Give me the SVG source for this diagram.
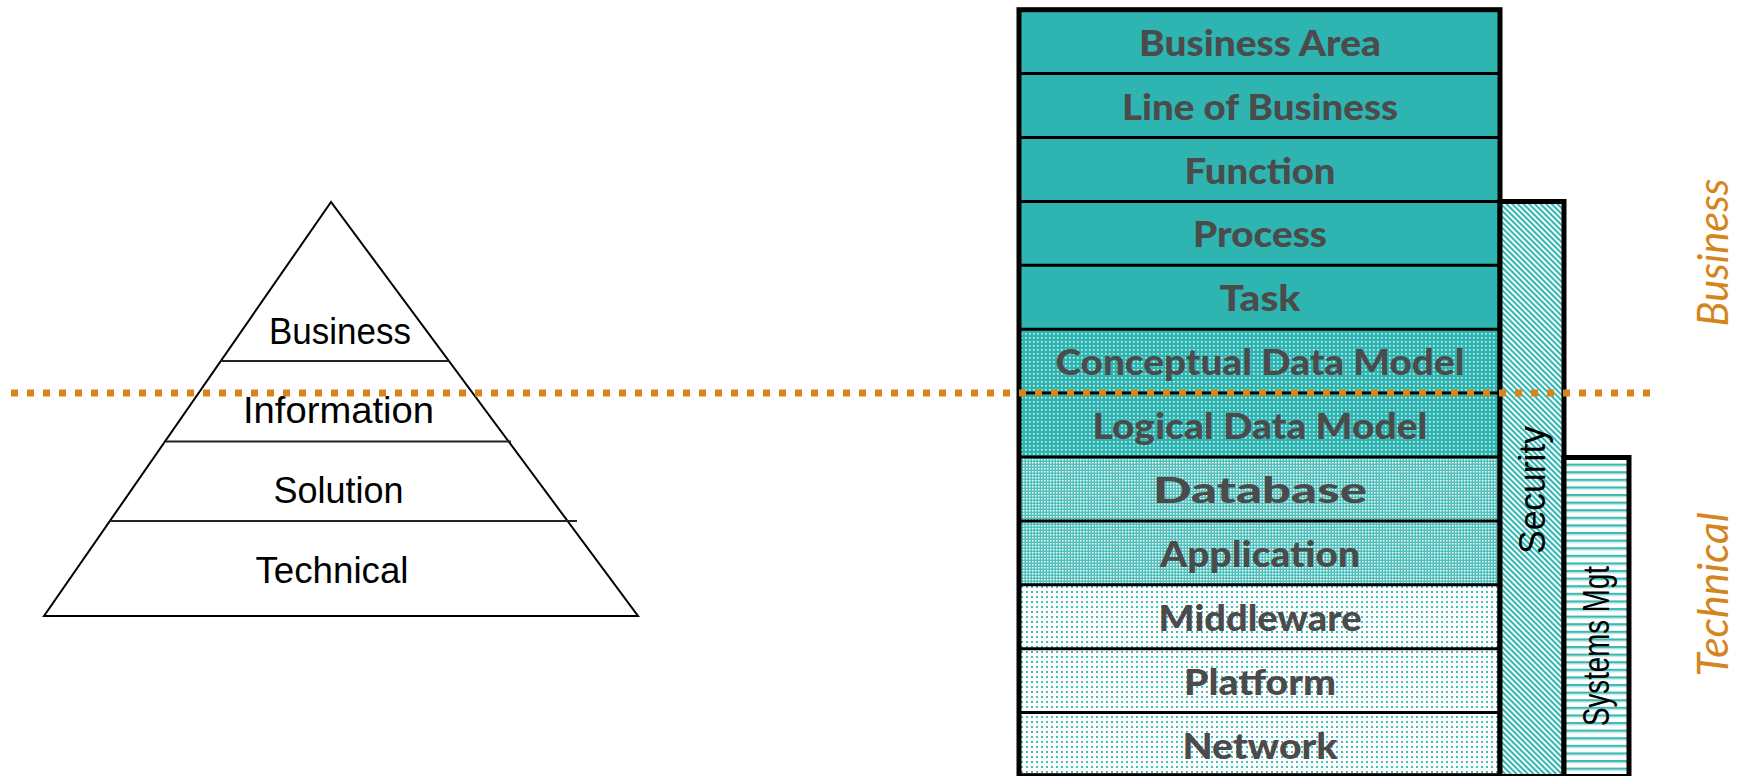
<svg xmlns="http://www.w3.org/2000/svg" width="1749" height="776" viewBox="0 0 1749 776">
<defs>
<style>
.lbl{font-family:Lato,"Open Sans","Liberation Sans",sans-serif;font-weight:900;font-size:36px;fill:#4b4b4b;text-anchor:middle}
.pyr{font-family:"Liberation Sans",Arial,sans-serif;font-size:37px;fill:#000;text-anchor:middle}
.side{font-family:"Liberation Sans",Arial,sans-serif;font-size:36px;fill:#000;text-anchor:middle}
.zone{font-family:Lato,"Open Sans",sans-serif;font-style:italic;font-size:42px;fill:#D4861C;text-anchor:middle}
.row{stroke:#000;stroke-width:3}
.border{fill:none;stroke:#000;stroke-width:5}
.pl{stroke:#222;stroke-width:2}
</style>
<pattern id="pDotW" width="4" height="4" patternUnits="userSpaceOnUse"><rect width="4" height="4" fill="#2EB5B1"/><rect x="1" y="1" width="1.6" height="1.6" fill="#ffffff" opacity="0.8"/></pattern>
<pattern id="pCheck" width="3" height="3" patternUnits="userSpaceOnUse"><rect width="3" height="3" fill="#4fc0bc"/><rect width="1.5" height="1.5" fill="#ffffff"/></pattern>
<pattern id="pDotT" width="5" height="5" patternUnits="userSpaceOnUse"><rect width="5" height="5" fill="#ffffff"/><rect x="1" y="1" width="2" height="2" fill="#45bdb9"/></pattern>
<pattern id="pDiag" width="4" height="4" patternUnits="userSpaceOnUse" patternTransform="rotate(-45)"><rect width="4" height="4" fill="#ffffff"/><rect width="2.1" height="4" fill="#33b7b3"/></pattern>
<pattern id="pHoriz" width="10" height="7.6" patternUnits="userSpaceOnUse"><rect width="10" height="7.6" fill="#ffffff"/><rect y="0" width="10" height="2" fill="#3cb9b5"/><rect y="2" width="10" height="1.2" fill="#a3ddda"/></pattern>
</defs>

<g id="pyramid">
<polygon points="331,202 44,616 638,616" fill="#ffffff" stroke="#000" stroke-width="2"/>
<line class="pl" x1="221" y1="361" x2="448" y2="361"/>
<line class="pl" x1="166" y1="441.5" x2="511" y2="441.5"/>
<line class="pl" x1="110" y1="521" x2="577" y2="521"/>
<text class="pyr" x="340" y="344" textLength="142" lengthAdjust="spacingAndGlyphs">Business</text>
<text class="pyr" x="338.5" y="423" textLength="191" lengthAdjust="spacingAndGlyphs">Information</text>
<text class="pyr" x="338.5" y="503" textLength="130" lengthAdjust="spacingAndGlyphs">Solution</text>
<text class="pyr" x="332" y="583" textLength="153" lengthAdjust="spacingAndGlyphs">Technical</text>
</g>

<g id="stack">
<rect x="1019" y="9.7" width="481" height="319.5" fill="#2EB5B1"/>
<rect x="1019" y="329.2" width="481" height="127.8" fill="url(#pDotW)"/>
<rect x="1019" y="457" width="481" height="127.8" fill="url(#pCheck)"/>
<rect x="1019" y="584.8" width="481" height="192" fill="url(#pDotT)"/>
<line class="row" x1="1019" y1="73.6" x2="1500" y2="73.6"/>
<line class="row" x1="1019" y1="137.5" x2="1500" y2="137.5"/>
<line class="row" x1="1019" y1="201.4" x2="1500" y2="201.4"/>
<line class="row" x1="1019" y1="265.3" x2="1500" y2="265.3"/>
<line class="row" x1="1019" y1="329.2" x2="1500" y2="329.2"/>
<line class="row" x1="1019" y1="393.1" x2="1500" y2="393.1"/>
<line class="row" x1="1019" y1="457" x2="1500" y2="457"/>
<line class="row" x1="1019" y1="520.9" x2="1500" y2="520.9"/>
<line class="row" x1="1019" y1="584.8" x2="1500" y2="584.8"/>
<line class="row" x1="1019" y1="648.7" x2="1500" y2="648.7"/>
<line class="row" x1="1019" y1="712.6" x2="1500" y2="712.6"/>
<rect class="border" x="1019" y="9.7" width="481" height="766"/>
</g>
<g id="row-business-area"><text class="lbl" x="1260" y="55.7" textLength="242" lengthAdjust="spacingAndGlyphs">Business Area</text></g>
<g id="row-line-of-business"><text class="lbl" x="1260" y="119.6" textLength="276" lengthAdjust="spacingAndGlyphs">Line of Business</text></g>
<g id="row-function"><text class="lbl" x="1260" y="183.5" textLength="151" lengthAdjust="spacingAndGlyphs">Function</text></g>
<g id="row-process"><text class="lbl" x="1260" y="247.4" textLength="134" lengthAdjust="spacingAndGlyphs">Process</text></g>
<g id="row-task"><text class="lbl" x="1260" y="311.3" textLength="81" lengthAdjust="spacingAndGlyphs">Task</text></g>
<g id="row-conceptual"><text class="lbl" x="1260" y="375.2" textLength="409" lengthAdjust="spacingAndGlyphs">Conceptual Data Model</text></g>
<g id="row-logical"><text class="lbl" x="1260" y="439.1" textLength="335" lengthAdjust="spacingAndGlyphs">Logical Data Model</text></g>
<g id="row-database"><text class="lbl" x="1260" y="503" textLength="214" lengthAdjust="spacingAndGlyphs">Database</text></g>
<g id="row-application"><text class="lbl" x="1260" y="566.9" textLength="200" lengthAdjust="spacingAndGlyphs">Application</text></g>
<g id="row-middleware"><text class="lbl" x="1260" y="630.8" textLength="203" lengthAdjust="spacingAndGlyphs">Middleware</text></g>
<g id="row-platform"><text class="lbl" x="1260" y="694.7" textLength="152" lengthAdjust="spacingAndGlyphs">Platform</text></g>
<g id="row-network"><text class="lbl" x="1260" y="758.6" textLength="155" lengthAdjust="spacingAndGlyphs">Network</text></g>

<g id="security">
<rect x="1500" y="201.5" width="64" height="575" fill="url(#pDiag)"/>
<rect class="border" x="1500" y="201.5" width="64" height="575"/>
<text class="side" transform="translate(1545,490) rotate(-90)" textLength="128" lengthAdjust="spacingAndGlyphs">Security</text>
</g>

<g id="systems-mgt">
<rect x="1564" y="457.5" width="65" height="319" fill="url(#pHoriz)"/>
<rect class="border" x="1564" y="457.5" width="65" height="319"/>
<text class="side" transform="translate(1609,646) rotate(-90)" textLength="160" lengthAdjust="spacingAndGlyphs">Systems Mgt</text>
</g>

<g id="connectors">
<line x1="11" y1="393" x2="1658" y2="393" stroke="#D4861C" stroke-width="7" stroke-dasharray="7 9"/>
</g>

<g id="zone-business"><text class="zone" transform="translate(1728,252.5) rotate(-90)" textLength="148" lengthAdjust="spacingAndGlyphs">Business</text></g>
<g id="zone-technical"><text class="zone" transform="translate(1728,594.5) rotate(-90)" textLength="164" lengthAdjust="spacingAndGlyphs">Technical</text></g>
</svg>
